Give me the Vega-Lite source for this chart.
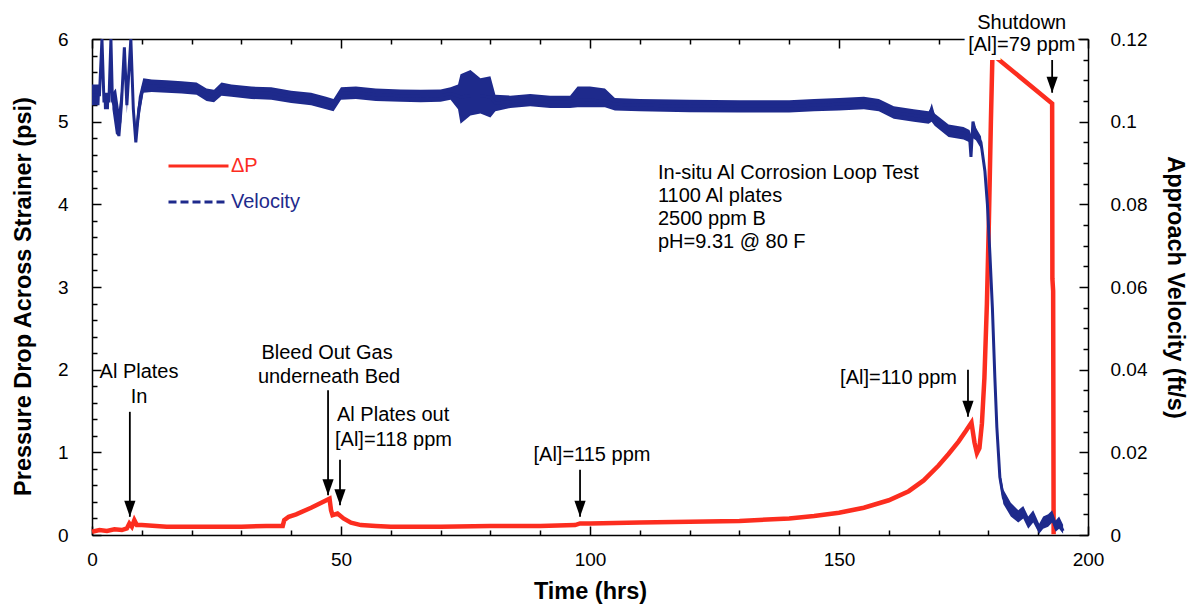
{
  "$schema": "https://vega.github.io/schema/vega-lite/v6.json",
  "width": 996,
  "height": 496,
  "autosize": {"type": "none"},
  "padding": {"left": 92, "top": 39, "right": 107, "bottom": 70},
  "background": "white",
  "config": {"view": {"stroke": null}, "font": "Liberation Sans"},
  "datasets": {
    "dp": [
      {"t": 0, "p": 0.04}, {"t": 1.5, "p": 0.06}, {"t": 3, "p": 0.05}, {"t": 4.5, "p": 0.07},
      {"t": 6, "p": 0.06}, {"t": 7, "p": 0.08}, {"t": 7.5, "p": 0.14}, {"t": 8, "p": 0.1},
      {"t": 8.5, "p": 0.18}, {"t": 9, "p": 0.12}, {"t": 10, "p": 0.12}, {"t": 15, "p": 0.1},
      {"t": 20, "p": 0.1}, {"t": 25, "p": 0.1}, {"t": 30, "p": 0.1}, {"t": 35, "p": 0.11},
      {"t": 38.3, "p": 0.11}, {"t": 38.6, "p": 0.18}, {"t": 39.5, "p": 0.22}, {"t": 41, "p": 0.25},
      {"t": 44, "p": 0.33}, {"t": 47.7, "p": 0.44}, {"t": 48.0, "p": 0.3}, {"t": 48.3, "p": 0.24},
      {"t": 49.3, "p": 0.26}, {"t": 50.5, "p": 0.2}, {"t": 52, "p": 0.15}, {"t": 54, "p": 0.12},
      {"t": 57, "p": 0.11}, {"t": 60, "p": 0.1}, {"t": 70, "p": 0.1}, {"t": 80, "p": 0.11},
      {"t": 90, "p": 0.11}, {"t": 97, "p": 0.12}, {"t": 98, "p": 0.14}, {"t": 100, "p": 0.14},
      {"t": 110, "p": 0.15}, {"t": 120, "p": 0.16}, {"t": 130, "p": 0.17}, {"t": 140, "p": 0.2},
      {"t": 145, "p": 0.23}, {"t": 150, "p": 0.27}, {"t": 155, "p": 0.33}, {"t": 160, "p": 0.42},
      {"t": 164, "p": 0.53}, {"t": 167, "p": 0.66}, {"t": 170, "p": 0.84}, {"t": 172, "p": 0.98},
      {"t": 174, "p": 1.13}, {"t": 175.5, "p": 1.26}, {"t": 176.6, "p": 1.36}, {"t": 177.2, "p": 1.12},
      {"t": 177.7, "p": 0.99}, {"t": 178.2, "p": 1.05}, {"t": 178.7, "p": 1.35}, {"t": 179.2, "p": 1.9},
      {"t": 179.7, "p": 2.8}, {"t": 180.1, "p": 3.8}, {"t": 180.5, "p": 5.0}, {"t": 180.8, "p": 5.78},
      {"t": 181.5, "p": 5.78}, {"t": 192.8, "p": 5.22}, {"t": 192.85, "p": 3.1}, {"t": 193.0, "p": 2.95},
      {"t": 193.1, "p": 0.01}
    ],
    "vel": [
      {"t": 0, "v": 0.1065, "lo": 0.104, "hi": 0.109},
      {"t": 1.5, "v": 0.1065, "lo": 0.104, "hi": 0.109},
      {"t": 2.0, "v": 0.12, "lo": 0.12, "hi": 0.12},
      {"t": 2.4, "v": 0.105, "lo": 0.103, "hi": 0.107},
      {"t": 3.4, "v": 0.105, "lo": 0.103, "hi": 0.107},
      {"t": 3.8, "v": 0.12, "lo": 0.12, "hi": 0.12},
      {"t": 4.1, "v": 0.105, "lo": 0.103, "hi": 0.107},
      {"t": 4.8, "v": 0.103, "lo": 0.097, "hi": 0.108},
      {"t": 5.4, "v": 0.0965, "lo": 0.0965, "hi": 0.103},
      {"t": 5.9, "v": 0.104, "lo": 0.1, "hi": 0.108},
      {"t": 6.5, "v": 0.118, "lo": 0.118, "hi": 0.118},
      {"t": 7.0, "v": 0.104, "lo": 0.102, "hi": 0.106},
      {"t": 7.8, "v": 0.12, "lo": 0.12, "hi": 0.12},
      {"t": 8.3, "v": 0.103, "lo": 0.101, "hi": 0.105},
      {"t": 8.8, "v": 0.095, "lo": 0.095, "hi": 0.099},
      {"t": 9.4, "v": 0.103, "lo": 0.1, "hi": 0.106},
      {"t": 10.3, "v": 0.1085, "lo": 0.107, "hi": 0.1105},
      {"t": 12, "v": 0.1087, "lo": 0.1072, "hi": 0.1102},
      {"t": 15, "v": 0.1085, "lo": 0.107, "hi": 0.11},
      {"t": 18, "v": 0.1083, "lo": 0.1068, "hi": 0.1098},
      {"t": 21, "v": 0.108, "lo": 0.1065, "hi": 0.1095},
      {"t": 23, "v": 0.1065, "lo": 0.105, "hi": 0.108},
      {"t": 24.5, "v": 0.1062, "lo": 0.1047, "hi": 0.1077},
      {"t": 26, "v": 0.1078, "lo": 0.1063, "hi": 0.1095},
      {"t": 28, "v": 0.1075, "lo": 0.106, "hi": 0.109},
      {"t": 32, "v": 0.107, "lo": 0.1055, "hi": 0.1085},
      {"t": 36, "v": 0.1068, "lo": 0.1053, "hi": 0.1083},
      {"t": 40, "v": 0.106, "lo": 0.1045, "hi": 0.1075},
      {"t": 44, "v": 0.1055, "lo": 0.104, "hi": 0.107},
      {"t": 47, "v": 0.1045, "lo": 0.103, "hi": 0.106},
      {"t": 48.5, "v": 0.104, "lo": 0.1025, "hi": 0.1055},
      {"t": 50, "v": 0.1068, "lo": 0.1053, "hi": 0.1083},
      {"t": 53, "v": 0.107, "lo": 0.1055, "hi": 0.1085},
      {"t": 57, "v": 0.1065, "lo": 0.105, "hi": 0.108},
      {"t": 62, "v": 0.1063, "lo": 0.1048, "hi": 0.1078},
      {"t": 66, "v": 0.1062, "lo": 0.1047, "hi": 0.1077},
      {"t": 70, "v": 0.1063, "lo": 0.1048, "hi": 0.1078},
      {"t": 72, "v": 0.1068, "lo": 0.1053, "hi": 0.1083},
      {"t": 73.5, "v": 0.1062, "lo": 0.103, "hi": 0.109},
      {"t": 74, "v": 0.106, "lo": 0.0995, "hi": 0.1115},
      {"t": 76, "v": 0.1062, "lo": 0.1015, "hi": 0.1125},
      {"t": 78, "v": 0.1062, "lo": 0.102, "hi": 0.1105},
      {"t": 80, "v": 0.106, "lo": 0.101, "hi": 0.111},
      {"t": 81, "v": 0.1045, "lo": 0.1025, "hi": 0.1065},
      {"t": 84, "v": 0.1048, "lo": 0.1033, "hi": 0.1063},
      {"t": 88, "v": 0.1052, "lo": 0.1037, "hi": 0.1067},
      {"t": 92, "v": 0.1048, "lo": 0.1033, "hi": 0.1063},
      {"t": 96, "v": 0.1048, "lo": 0.1033, "hi": 0.1063},
      {"t": 97.5, "v": 0.1053, "lo": 0.1035, "hi": 0.1085},
      {"t": 100, "v": 0.1052, "lo": 0.1035, "hi": 0.1085},
      {"t": 103, "v": 0.105, "lo": 0.1035, "hi": 0.108},
      {"t": 105, "v": 0.1042, "lo": 0.1027, "hi": 0.1057},
      {"t": 110, "v": 0.104, "lo": 0.1025, "hi": 0.1055},
      {"t": 120, "v": 0.1038, "lo": 0.1023, "hi": 0.1053},
      {"t": 130, "v": 0.1037, "lo": 0.1022, "hi": 0.1052},
      {"t": 140, "v": 0.1037, "lo": 0.1022, "hi": 0.1052},
      {"t": 145, "v": 0.104, "lo": 0.1025, "hi": 0.1055},
      {"t": 150, "v": 0.1042, "lo": 0.1027, "hi": 0.1057},
      {"t": 155, "v": 0.1045, "lo": 0.103, "hi": 0.106},
      {"t": 158, "v": 0.104, "lo": 0.1025, "hi": 0.1055},
      {"t": 161, "v": 0.1022, "lo": 0.1007, "hi": 0.1037},
      {"t": 165, "v": 0.1015, "lo": 0.1, "hi": 0.103},
      {"t": 168, "v": 0.101, "lo": 0.0995, "hi": 0.1025},
      {"t": 168.6, "v": 0.1032, "lo": 0.1, "hi": 0.1035},
      {"t": 169.2, "v": 0.1005, "lo": 0.099, "hi": 0.102},
      {"t": 172, "v": 0.0978, "lo": 0.0963, "hi": 0.0993},
      {"t": 175, "v": 0.0972, "lo": 0.0957, "hi": 0.0987},
      {"t": 176.2, "v": 0.0965, "lo": 0.095, "hi": 0.098},
      {"t": 176.5, "v": 0.0915, "lo": 0.0915, "hi": 0.097},
      {"t": 176.9, "v": 0.1, "lo": 0.096, "hi": 0.1},
      {"t": 177.5, "v": 0.097, "lo": 0.0955, "hi": 0.0985},
      {"t": 178.5, "v": 0.095, "lo": 0.0935, "hi": 0.0965},
      {"t": 179.3, "v": 0.088, "lo": 0.087, "hi": 0.089},
      {"t": 179.8, "v": 0.08, "lo": 0.079, "hi": 0.081},
      {"t": 180.3, "v": 0.068, "lo": 0.067, "hi": 0.069},
      {"t": 180.8, "v": 0.055, "lo": 0.054, "hi": 0.056},
      {"t": 181.3, "v": 0.038, "lo": 0.037, "hi": 0.039},
      {"t": 181.7, "v": 0.026, "lo": 0.025, "hi": 0.027},
      {"t": 182.3, "v": 0.014, "lo": 0.0125, "hi": 0.0155},
      {"t": 183, "v": 0.009, "lo": 0.0075, "hi": 0.011},
      {"t": 184.5, "v": 0.006, "lo": 0.0045, "hi": 0.0078},
      {"t": 186, "v": 0.0045, "lo": 0.003, "hi": 0.006},
      {"t": 187, "v": 0.0055, "lo": 0.004, "hi": 0.007},
      {"t": 188, "v": 0.003, "lo": 0.0015, "hi": 0.0045},
      {"t": 189, "v": 0.0045, "lo": 0.003, "hi": 0.006},
      {"t": 190.2, "v": 0.0012, "lo": 0.0003, "hi": 0.0027},
      {"t": 191, "v": 0.003, "lo": 0.0015, "hi": 0.0045},
      {"t": 192, "v": 0.0035, "lo": 0.002, "hi": 0.005},
      {"t": 192.8, "v": 0.0045, "lo": 0.003, "hi": 0.006},
      {"t": 193.5, "v": 0.002, "lo": 0.0008, "hi": 0.0035},
      {"t": 194.2, "v": 0.003, "lo": 0.0015, "hi": 0.0045},
      {"t": 195, "v": 0.001, "lo": 0.0003, "hi": 0.0025}
    ],
    "arrows": [
      {"t": 7.6, "p": 1.49, "p2": 0.22},
      {"t": 47.4, "p": 1.75, "p2": 0.48},
      {"t": 49.8, "p": 0.91, "p2": 0.36},
      {"t": 98.0, "p": 0.79, "p2": 0.22},
      {"t": 175.9, "p": 2.0, "p2": 1.43},
      {"t": 192.8, "p": 5.77, "p2": 5.35}
    ],
    "notesC": [
      {"t": 9.44, "p": 1.97, "label": "Al Plates"},
      {"t": 9.44, "p": 1.67, "label": "In"},
      {"t": 47.2, "p": 2.2, "label": "Bleed Out Gas"},
      {"t": 47.6, "p": 1.91, "label": "underneath Bed"},
      {"t": 100.4, "p": 0.97, "label": "[Al]=115 ppm"},
      {"t": 186.7, "p": 6.19, "label": "Shutdown"},
      {"t": 186.7, "p": 5.927, "label": "[Al]=79 ppm"}
    ],
    "notesL": [
      {"t": 49.2, "p": 1.45, "label": "Al Plates out"},
      {"t": 48.8, "p": 1.15, "label": "[Al]=118 ppm"},
      {"t": 113.65, "p": 4.38, "label": "In-situ Al Corrosion Loop Test"},
      {"t": 113.65, "p": 4.1, "label": "1100 Al plates"},
      {"t": 113.65, "p": 3.82, "label": "2500 ppm B"},
      {"t": 113.65, "p": 3.54, "label": "pH=9.31 @ 80 F"}
    ],
    "notesR": [
      {"t": 173.7, "p": 1.9, "label": "[Al]=110 ppm"}
    ]
  },
  "layer": [
    {
      "layer": [
        {
          "data": {"name": "dp"},
          "mark": {"type": "line", "strokeWidth": 4.5, "interpolate": "linear"},
          "encoding": {
            "x": {
              "field": "t", "type": "quantitative",
              "scale": {"domain": [0, 200], "nice": false, "zero": false},
              "axis": {
                "orient": "bottom", "zindex": 0, "tickCount": 100,
                "values": [0,10,20,30,40,50,60,70,80,90,100,110,120,130,140,150,160,170,180,190,200],
                "labelExpr": "datum.value % 50 === 0 ? datum.label : ''",
                "tickSize": {"condition": {"test": "datum.value % 50 === 0", "value": -9}, "value": -5},
                "labelPadding": 24, "labelFontSize": 19, "labelColor": "black", "labelFont": "Liberation Sans",
                "labelOverlap": false, "labelFlush": false,
                "domainColor": "black", "domainWidth": 1.5, "tickColor": "black", "tickWidth": 1.5,
                "grid": false,
                "title": "Time (hrs)", "titleFontSize": 23.5, "titleFontWeight": "bold", "titleColor": "black",
                "titleFont": "Liberation Sans", "titlePadding": 6
              }
            },
            "y": {
              "field": "p", "type": "quantitative",
              "scale": {"domain": [0, 6], "nice": false},
              "axis": {
                "orient": "left", "zindex": 0, "tickCount": 100,
                "values": [0,0.2,0.4,0.6,0.8,1,1.2,1.4,1.6,1.8,2,2.2,2.4,2.6,2.8,3,3.2,3.4,3.6,3.8,4,4.2,4.4,4.6,4.8,5,5.2,5.4,5.6,5.8,6],
                "labelExpr": "abs(datum.value - round(datum.value)) < 1e-6 ? format(datum.value, 'd') : ''",
                "tickSize": {"condition": {"test": "abs(datum.value - round(datum.value)) < 1e-6", "value": -9}, "value": -5},
                "labelPadding": 33, "labelFontSize": 19, "labelColor": "black", "labelFont": "Liberation Sans",
                "labelOverlap": false, "labelFlush": false,
                "domainColor": "black", "domainWidth": 1.5, "tickColor": "black", "tickWidth": 1.5,
                "grid": false,
                "title": "Pressure Drop Across Strainer (psi)", "titleFontSize": 23.5, "titleFontWeight": "bold",
                "titleColor": "black", "titleFont": "Liberation Sans", "titlePadding": 22, "titleY": 257
              }
            },
            "color": {
              "datum": "ΔP", "type": "nominal",
              "scale": {"domain": ["ΔP", "Velocity"], "range": ["#fc2d1f", "#1e2a8c"]},
              "legend": {
                "title": null, "orient": "none", "legendX": 75, "legendY": 117,
                "symbolType": "stroke", "symbolSize": 3600, "symbolStrokeWidth": 3,
                "clipHeight": 20, "rowPadding": 16,
                "labelFontSize": 20, "labelFont": "Liberation Sans", "labelOffset": 1,
                "encode": {
                  "labels": {"update": {"fill": {"signal": "datum.value === 'ΔP' ? '#fc2d1f' : '#1e2a8c'"}}},
                  "symbols": {"update": {"strokeDash": {"signal": "datum.value === 'Velocity' ? [8, 4] : [1, 0]"}}}
                }
              }
            }
          }
        },
        {
          "data": {"name": "arrows"},
          "mark": {"type": "rule", "color": "black", "strokeWidth": 1.8},
          "encoding": {
            "x": {"field": "t", "type": "quantitative", "scale": {"domain": [0, 200], "nice": false, "zero": false}},
            "y": {"field": "p", "type": "quantitative", "scale": {"domain": [0, 6], "nice": false}},
            "y2": {"field": "p2"}
          }
        },
        {
          "data": {"name": "arrows"},
          "mark": {"type": "point", "shape": "M-0.35,-1L0.35,-1L0,0Z", "size": 1024, "filled": true, "color": "black", "opacity": 1, "strokeWidth": 0},
          "encoding": {
            "x": {"field": "t", "type": "quantitative", "scale": {"domain": [0, 200], "nice": false, "zero": false}},
            "y": {"field": "p2", "type": "quantitative", "scale": {"domain": [0, 6], "nice": false}}
          }
        },
        {
          "data": {"name": "notesC"},
          "transform": [{"filter": "datum.label === '[Al]=79 ppm'"}],
          "mark": {"type": "text", "align": "center", "baseline": "middle", "fontSize": 20, "font": "Liberation Sans", "color": "white", "stroke": "white", "strokeWidth": 10},
          "encoding": {
            "x": {"field": "t", "type": "quantitative", "scale": {"domain": [0, 200], "nice": false, "zero": false}},
            "y": {"field": "p", "type": "quantitative", "scale": {"domain": [0, 6], "nice": false}},
            "text": {"field": "label"}
          }
        },
        {
          "data": {"name": "notesC"},
          "mark": {"type": "text", "align": "center", "baseline": "middle", "fontSize": 20, "font": "Liberation Sans", "color": "black"},
          "encoding": {
            "x": {"field": "t", "type": "quantitative", "scale": {"domain": [0, 200], "nice": false, "zero": false}},
            "y": {"field": "p", "type": "quantitative", "scale": {"domain": [0, 6], "nice": false}},
            "text": {"field": "label"}
          }
        },
        {
          "data": {"name": "notesL"},
          "mark": {"type": "text", "align": "left", "baseline": "middle", "fontSize": 20, "font": "Liberation Sans", "color": "black"},
          "encoding": {
            "x": {"field": "t", "type": "quantitative", "scale": {"domain": [0, 200], "nice": false, "zero": false}},
            "y": {"field": "p", "type": "quantitative", "scale": {"domain": [0, 6], "nice": false}},
            "text": {"field": "label"}
          }
        },
        {
          "data": {"name": "notesR"},
          "mark": {"type": "text", "align": "right", "baseline": "middle", "fontSize": 20, "font": "Liberation Sans", "color": "black"},
          "encoding": {
            "x": {"field": "t", "type": "quantitative", "scale": {"domain": [0, 200], "nice": false, "zero": false}},
            "y": {"field": "p", "type": "quantitative", "scale": {"domain": [0, 6], "nice": false}},
            "text": {"field": "label"}
          }
        }
      ]
    },
    {
      "layer": [
        {
          "data": {"name": "vel"},
          "mark": {"type": "area", "color": "#1e2a8c", "opacity": 1},
          "encoding": {
            "x": {
              "field": "t", "type": "quantitative",
              "scale": {"domain": [0, 200], "nice": false, "zero": false},
              "axis": {
                "orient": "top", "zindex": 0, "tickCount": 100,
                "values": [0,10,20,30,40,50,60,70,80,90,100,110,120,130,140,150,160,170,180,190,200],
                "labels": false,
                "tickSize": {"condition": {"test": "datum.value % 50 === 0", "value": -9}, "value": -5},
                "domainColor": "black", "domainWidth": 1.5, "tickColor": "black", "tickWidth": 1.5,
                "grid": false, "title": null
              }
            },
            "y": {
              "field": "lo", "type": "quantitative",
              "scale": {"domain": [0, 0.12], "nice": false},
              "axis": {
                "orient": "right", "zindex": 0, "tickCount": 100,
                "values": [0,0.005,0.01,0.015,0.02,0.025,0.03,0.035,0.04,0.045,0.05,0.055,0.06,0.065,0.07,0.075,0.08,0.085,0.09,0.095,0.1,0.105,0.11,0.115,0.12],
                "labelExpr": "abs(datum.value*50 - round(datum.value*50)) < 1e-6 ? format(datum.value, '.2~f') : ''",
                "tickSize": {"condition": {"test": "abs(datum.value*50 - round(datum.value*50)) < 1e-6", "value": -9}, "value": -5},
                "labelPadding": 31, "labelFontSize": 19, "labelColor": "black", "labelFont": "Liberation Sans",
                "labelOverlap": false, "labelFlush": false,
                "domainColor": "black", "domainWidth": 1.5, "tickColor": "black", "tickWidth": 1.5,
                "grid": false,
                "title": "Approach Velocity (ft/s)", "titleFontSize": 23.5, "titleFontWeight": "bold",
                "titleColor": "black", "titleFont": "Liberation Sans", "titlePadding": 16
              }
            },
            "y2": {"field": "hi"}
          }
        },
        {
          "data": {"name": "vel"},
          "mark": {"type": "line", "strokeWidth": 3},
          "encoding": {
            "x": {"field": "t", "type": "quantitative", "scale": {"domain": [0, 200], "nice": false, "zero": false}},
            "y": {"field": "v", "type": "quantitative", "scale": {"domain": [0, 0.12], "nice": false}},
            "color": {"datum": "Velocity", "type": "nominal"}
          }
        }
      ]
    }
  ],
  "resolve": {"scale": {"y": "independent"}, "axis": {"x": "independent"}}
}
